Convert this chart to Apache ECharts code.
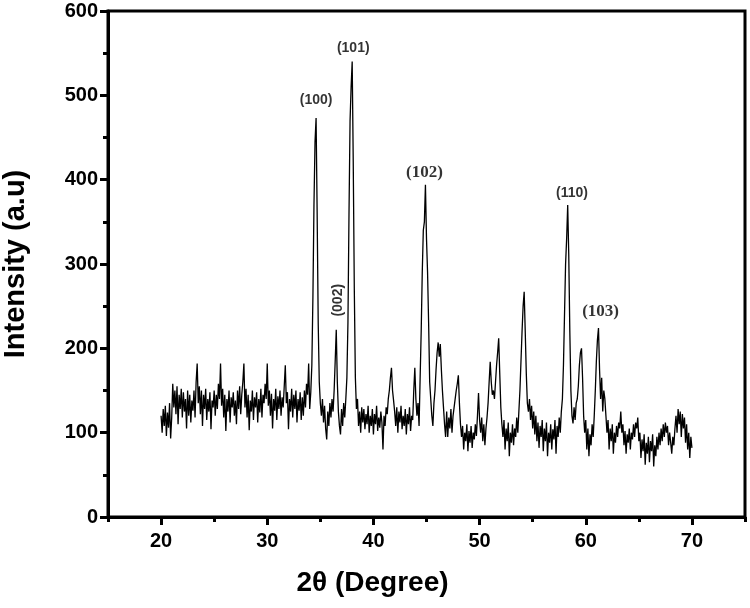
<!DOCTYPE html>
<html>
<head>
<meta charset="utf-8">
<script src="https://cdn.jsdelivr.net/npm/echarts/dist/echarts.min.js"></script>
<style>
  html, body { margin: 0; padding: 0; background: #fff; }
  #main { width: 750px; height: 608px; }
</style>
</head>
<body>
<div id="main"></div>
<script>
// 2theta grid of the scan (degrees)
const thetaStart = 20
const thetaStep = 0.1

// intensity, one row per degree (20.0 ... 69.9), last value at 70.0
const intensity = [
  120, 100, 128, 108, 132, 96, 124, 106, 135, 93,
  118, 158, 130, 150, 122, 155, 110, 145, 128, 152,
  118, 148, 125, 140, 105, 150, 120, 145, 112, 138,
  126, 150, 118, 160, 182, 135, 155, 122, 150, 108,
  145, 128, 152, 115, 140, 125, 148, 104, 138, 130,
  150, 120, 145, 128, 158, 140, 182, 132, 152, 118,
  145, 102, 140, 125, 150, 112, 142, 130, 148, 120,
  138, 110, 150, 128, 155, 122, 145, 160, 182, 130,
  152, 118, 145, 103, 138, 125, 150, 115, 142, 130,
  148, 112, 140, 124, 152, 118, 145, 135, 158, 140,
  182, 132, 150, 120, 146, 105, 140, 126, 152, 115,
  143, 128, 150, 120, 142, 130, 155, 180, 135, 148,
  104, 140, 125, 152, 118, 145, 128, 150, 112, 140,
  126, 148, 115, 142, 120, 150, 130, 158, 145, 182,
  128, 148, 180, 260, 370, 445, 473, 360, 230, 160,
  135, 120, 140, 112, 132, 105, 92, 125, 108, 135,
  118, 140, 125, 150, 185, 222, 160, 125, 108, 98,
  128, 108, 135, 118, 140, 165, 230, 360, 470, 510,
  540, 420, 270, 165, 128, 140, 108, 125, 100, 130,
  112, 128, 104, 122, 110, 132, 100, 120, 108, 128,
  98, 122, 110, 132, 102, 118, 106, 125, 112, 80,
  120, 108, 130, 122, 140, 150, 165, 177, 150, 138,
  125, 108, 130, 100, 125, 112, 132, 104, 120, 108,
  128, 98, 122, 110, 130, 102, 120, 115, 150, 177,
  140, 120, 135, 108, 165, 220, 290, 340, 350, 394,
  330, 290, 230, 160, 140, 120, 108, 135, 150, 175,
  195, 207, 190, 205, 175, 150, 130, 110, 95, 125,
  95, 118, 105, 128, 100, 120, 130, 140, 150, 158,
  168, 135, 110, 95, 108, 80, 100, 90, 110, 78,
  102, 88, 108, 82, 100, 92, 110, 96, 120, 147,
  115, 100, 118, 90, 110, 85, 105, 118, 135, 160,
  184, 160, 145, 150, 140, 160, 180, 195, 212, 170,
  130, 110, 95, 115, 80, 105, 90, 112, 72, 100,
  88, 110, 85, 105, 95, 118, 100, 125, 150, 185,
  220, 250, 267, 220, 170, 135, 125, 140, 115, 132,
  105, 125, 98, 120, 90, 112, 82, 108, 95, 115,
  78, 105, 90, 112, 72, 100, 88, 110, 80, 104,
  92, 115, 75, 108, 95, 118, 100, 125, 140, 180,
  240, 300, 330, 370, 310, 220, 150, 120, 111, 130,
  115, 135, 140, 155, 180, 195, 200, 165, 120, 100,
  115, 80, 105, 72, 98, 85, 110, 95, 120, 150,
  185, 210, 224, 175, 140, 165, 125, 150, 140, 120,
  100, 115, 80, 105, 90, 110, 75, 100, 88, 108,
  95, 112, 105, 125, 100, 110, 85, 102, 75, 98,
  88, 105, 80, 100, 92, 110, 95, 112, 105, 118,
  90, 100, 70, 92, 78, 98, 62, 88, 75, 95,
  65, 90, 78, 98, 60, 85, 72, 95, 80, 100,
  85, 105, 90, 110, 95, 112, 100, 108, 85, 100,
  88, 75, 95, 85, 105, 120, 100, 128, 110, 125,
  95, 122, 105, 118, 88, 110, 80, 100, 70, 95,
  82
]

// peak indexing labels and where they sit (data units)
const peakNames = ['(100)', '(101)', '(002)', '(102)', '(110)', '(103)']
const peakLabelX = [34.6, 38.1, 36.65, 44.8, 58.7, 61.4]
const peakLabelY = [494, 556, 257, 408, 384, 243]

// ticks
const xMajorTicks = [20, 30, 40, 50, 60, 70]
const xMinorTicks = [15, 25, 35, 45, 55, 65, 75]

const sans = 'Liberation Sans, Arial, Helvetica, sans-serif'
const serif = 'Liberation Serif, Times New Roman, serif'
const serifLabels = ['(102)', '(103)']
const verticalLabels = ['(002)']

const scan = intensity.map((v, i) => [+(thetaStart + i * thetaStep).toFixed(1), v])

const chart = echarts.init(document.getElementById('main'))
var option = {
  animation: false,
  backgroundColor: '#fff',
  grid: {
    left: 108,
    right: 5,
    top: 11,
    bottom: 91,
    outerBoundsMode: 'none', // keep the plot box where it is
    show: true,
    borderColor: '#000',
    borderWidth: 3,
  },
  xAxis: [
    {
      type: 'value',
      min: 15,
      max: 75,
      name: '2θ (Degree)',
      nameLocation: 'middle',
      nameGap: 52,
      // title sits a bit left of the axis middle, over x = 40
      nameTextStyle: { fontFamily: sans, fontWeight: 'bold', fontSize: 28, color: '#000', padding: [0, 108, 0, 0] },
      axisLine: { show: true, onZero: false, lineStyle: { color: '#000', width: 3 } },
      axisTick: { show: true, customValues: xMajorTicks, length: 8, lineStyle: { color: '#000', width: 3 } },
      axisLabel: { customValues: xMajorTicks, margin: 14, fontFamily: sans, fontWeight: 'bold', fontSize: 20, color: '#000' },
      splitLine: { show: false },
    },
    {
      // only for the short ticks in between
      type: 'value',
      min: 15,
      max: 75,
      position: 'bottom',
      axisLine: { show: false },
      axisTick: { show: true, customValues: xMinorTicks, length: 5, lineStyle: { color: '#000', width: 3 } },
      axisLabel: { show: false },
      splitLine: { show: false },
    },
  ],
  yAxis: {
    type: 'value',
    min: 0,
    max: 600,
    interval: 100,
    name: 'Intensity (a.u)',
    nameLocation: 'middle',
    nameRotate: 90,
    nameGap: 78,
    nameTextStyle: { fontFamily: sans, fontWeight: 'bold', fontSize: 29, color: '#000' },
    axisLine: { show: true, onZero: false, lineStyle: { color: '#000', width: 3 } },
    axisTick: { show: true, length: 8, lineStyle: { color: '#000', width: 3 } },
    minorTick: { show: true, splitNumber: 2, length: 5, lineStyle: { color: '#000', width: 3 } },
    axisLabel: { margin: 10, fontFamily: sans, fontWeight: 'bold', fontSize: 20, color: '#000' },
    splitLine: { show: false },
  },
  series: [
    {
      name: 'XRD',
      type: 'line',
      data: scan,
      showSymbol: false,
      symbol: 'none',
      sampling: null,
      lineStyle: { color: '#000', width: 1.3 },
      silent: true,
    },
    {
      name: 'peaks',
      type: 'scatter',
      symbolSize: 1,
      itemStyle: { color: 'transparent' },
      silent: true,
      label: {
        show: true,
        position: 'inside',
        formatter: '{b}',
        color: '#000',
        fontWeight: 'bold',
      },
      data: peakNames.map((n, i) => ({
        name: n,
        value: [peakLabelX[i], peakLabelY[i]],
        label: {
          fontFamily: serifLabels.includes(n) ? serif : sans,
          fontSize: serifLabels.includes(n) ? 17 : 14,
          rotate: verticalLabels.includes(n) ? 90 : 0,
        },
      })),
    },
  ],
}
option && chart.setOption(option)
</script>
</body>
</html>
